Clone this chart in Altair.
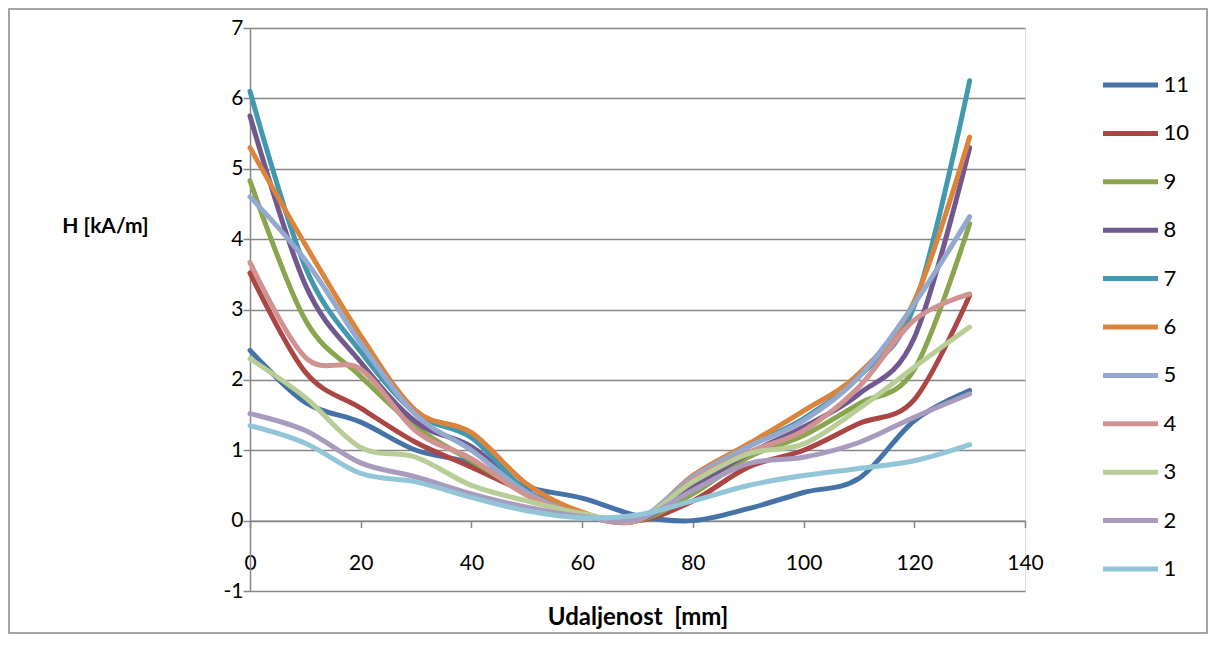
import altair as alt
import pandas as pd

# distance along the sensor path [mm]
x_mm = [0, 10, 20, 30, 40, 50, 60, 70, 80, 90, 100, 110, 120, 130]

# series names, in legend order
series_names = ["11", "10", "9", "8", "7", "6", "5", "4", "3", "2", "1"]
series_colors = ["#4572A7", "#AA4643", "#89A54E", "#71588F", "#4198AF", "#DB843D",
                 "#93A9CF", "#D19392", "#B9CD96", "#A99BBD", "#92C5D7"]

# H [kA/m] per series
h11 = [2.42, 1.68, 1.40, 1.00, 0.82, 0.48, 0.32, 0.07, 0.00, 0.17, 0.40, 0.60, 1.42, 1.85]
h10 = [3.52, 2.11, 1.60, 1.11, 0.76, 0.40, 0.10, 0.00, 0.28, 0.76, 1.00, 1.38, 1.72, 3.20]
h9 = [4.83, 2.85, 2.05, 1.33, 0.85, 0.40, 0.10, 0.00, 0.38, 0.90, 1.21, 1.66, 2.15, 4.22]
h8 = [5.75, 3.35, 2.25, 1.40, 1.05, 0.42, 0.08, 0.00, 0.48, 0.95, 1.33, 1.80, 2.60, 5.30]
h7 = [6.10, 3.60, 2.40, 1.52, 1.18, 0.42, 0.08, 0.02, 0.58, 1.05, 1.45, 2.05, 3.05, 6.25]
h6 = [5.30, 3.92, 2.63, 1.56, 1.25, 0.52, 0.12, 0.00, 0.64, 1.09, 1.56, 2.09, 3.12, 5.45]
h5 = [4.60, 3.70, 2.52, 1.50, 1.00, 0.40, 0.08, 0.02, 0.62, 1.05, 1.42, 2.04, 3.08, 4.32]
h4 = [3.67, 2.32, 2.15, 1.27, 0.88, 0.36, 0.08, 0.00, 0.58, 0.97, 1.28, 1.90, 2.85, 3.22]
h3 = [2.30, 1.75, 1.04, 0.90, 0.50, 0.28, 0.10, 0.02, 0.55, 0.95, 1.09, 1.59, 2.18, 2.75]
h2 = [1.52, 1.28, 0.82, 0.62, 0.38, 0.19, 0.06, 0.02, 0.43, 0.81, 0.90, 1.11, 1.47, 1.80]
h1 = [1.35, 1.10, 0.67, 0.55, 0.33, 0.14, 0.04, 0.08, 0.28, 0.50, 0.64, 0.74, 0.85, 1.08]

x_ticks = [0, 20, 40, 60, 80, 100, 120, 140]
y_ticks = [-1, 0, 1, 2, 3, 4, 5, 6, 7]

series_values = [h11, h10, h9, h8, h7, h6, h5, h4, h3, h2, h1]
rows = []
for name, vals in zip(series_names, series_values):
    for xv, hv in zip(x_mm, vals):
        rows.append({"series": name, "x": xv, "H": hv})
df = pd.DataFrame(rows)

FONT = "Lato"
GRID = "#868686"
W, H = 775, 563

lines = alt.Chart(df).mark_line(
    interpolate="cardinal", tension=0, strokeWidth=5,
    strokeCap="round", strokeJoin="round"
).encode(
    x=alt.X("x:Q",
            scale=alt.Scale(domain=[0, 140], nice=False, zero=False),
            axis=alt.Axis(values=x_ticks, grid=False, offset=-H / 8,
                          tickSize=7, tickColor=GRID, tickWidth=1.5,
                          domainColor=GRID, domainWidth=1.5,
                          labelPadding=25, labelFontSize=21, labelColor="#000000",
                          labelFont=FONT, labelFlush=False,
                          title="Udaljenost \u00a0[mm]", titleFont=FONT,
                          titleFontSize=24, titleFontWeight="bold",
                          titleColor="#000000", titleY=97,
                          titleBaseline="middle")),
    y=alt.Y("H:Q",
            scale=alt.Scale(domain=[-1, 7], nice=False, zero=False),
            axis=alt.Axis(values=y_ticks, grid=True, gridColor=GRID,
                          gridWidth=1.5, tickSize=7, tickColor=GRID,
                          tickWidth=1.5, domainColor=GRID, domainWidth=1.5,
                          labelPadding=0, labelFontSize=21, labelColor="#000000",
                          labelFont=FONT, labelExpr="'' + datum.value",
                          labelFlush=False,
                          title="H [kA/m]", titleAngle=0, titleFont=FONT,
                          titleFontSize=21, titleFontWeight="bold",
                          titleColor="#000000", titleX=-145, titleY=198,
                          titleAlign="center", titleBaseline="middle")),
    color=alt.Color("series:N",
                    scale=alt.Scale(domain=series_names, range=series_colors),
                    sort=series_names,
                    legend=alt.Legend(orient="none", legendX=850.5, legendY=27,
                                      title=None, symbolType="stroke",
                                      symbolSize=3025, symbolStrokeWidth=5,
                                      labelFontSize=22, labelFont=FONT,
                                      labelColor="#000000", labelOffset=3,
                                      rowPadding=7.4, padding=0)),
)

border = alt.Chart(pd.DataFrame({"a": [0]})).mark_rect(
    fill=None, stroke=GRID, strokeWidth=1.5
).encode(
    x=alt.value(-241), x2=alt.value(957), y=alt.value(-19), y2=alt.value(605)
)

chart = alt.layer(border, lines).properties(
    width=W, height=H,
    autosize=alt.AutoSizeParams(type="none"),
    padding={"left": 242, "top": 20, "right": 183, "bottom": 43},
).configure_view(stroke=None).configure(background="#ffffff")

chart.save("out.html", embed_options={"renderer": "svg", "actions": False})
